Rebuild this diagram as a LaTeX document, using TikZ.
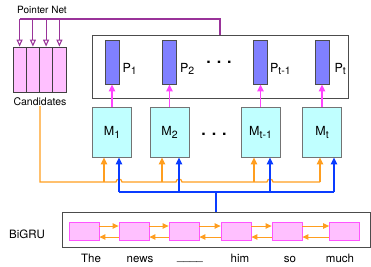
\documentclass[tikz,border=0pt]{standalone}
\usepackage{fontspec}
\setmainfont{TeX Gyre Heros}
\usetikzlibrary{arrows.meta}
\definecolor{ptrpurple}{HTML}{993399}
\definecolor{candpink}{HTML}{FFC0FF}
\definecolor{cellpink}{HTML}{FFC0FF}
\definecolor{celledge}{HTML}{FF55FF}
\definecolor{barblue}{HTML}{8080FF}
\definecolor{memcyan}{HTML}{C0FFFF}
\definecolor{gruorange}{HTML}{FF9E1F}
\definecolor{qblue}{HTML}{0A3CFF}
\definecolor{pmag}{HTML}{FF44FF}
\newcommand{\lsub}[1]{\raisebox{-0.45ex}{\fontsize{10.5}{12}\selectfont #1}}
\tikzset{
    outerbox/.style={draw=black!70, line width=0.9pt, inner sep=0pt},
    cand/.style={draw=black!75, line width=0.8pt, fill=candpink, minimum width=13.25pt, minimum height=45pt, inner sep=0pt},
    pbar/.style={draw=black!70, line width=0.9pt, fill=barblue, minimum width=14pt, minimum height=44pt, inner sep=0pt},
    mem/.style={draw=black!55, line width=0.9pt, fill=memcyan, minimum width=39pt, minimum height=50pt, inner sep=0pt, font=\fontsize{12.5}{14}\selectfont},
    cell/.style={draw=celledge, line width=0.8pt, fill=cellpink, minimum width=30pt, minimum height=18pt, inner sep=0pt},
    plbl/.style={inner sep=0pt, font=\fontsize{12.5}{14}\selectfont},
    word/.style={inner sep=0pt, font=\fontsize{11.5}{13}\selectfont},
    dotsl/.style={inner sep=0pt, font=\fontsize{16}{16}\selectfont\bfseries},
    ptr/.style={draw=ptrpurple, line width=1.1pt},
    ora/.style={draw=gruorange, line width=1.2pt, >={Triangle[width=6.5pt,length=7pt]}},
    blu/.style={draw=qblue, line width=1.2pt, >={Triangle[width=6.5pt,length=7pt]}},
    mag/.style={draw=pmag, line width=1.2pt, >={Triangle[width=6.5pt,length=7pt]}}
}

\begin{document}
\begin{tikzpicture}[x=1pt, y=-1pt]
        \useasboundingbox (0,0) rectangle (371,266);

        % pointer net and candidates
        \node[inner sep=0pt, font=\fontsize{10}{12}\selectfont] (pn) at (42,10) {Pointer Net};
        \foreach \i/\x in {1/19.6,2/32.9,3/46.1,4/59.4}
            \node[cand] (c\i) at (\x,69.5) {};
        \node[inner sep=0pt, font=\fontsize{10.5}{12}\selectfont] (cl) at (40,102) {Candidates};

        % pointer outputs
        \node[outerbox, minimum width=256pt, minimum height=63pt] (pf) at (220,66.5) {};
        \foreach \i/\x in {1/112,2/169.5,3/260.5,4/322}
            \node[pbar] (p\i) at (\x,62) {};
        \node[plbl, anchor=base west] (l1) at ([xshift=3pt]p1.east |- 0,72) {P\lsub{1}};
        \node[plbl, anchor=base west] (l2) at ([xshift=3pt]p2.east |- 0,72) {P\lsub{2}};
        \node[plbl, anchor=base west] (l3) at ([xshift=2pt]p3.east |- 0,72) {P\lsub{t-1}};
        \node[plbl, anchor=base west] (l4) at ([xshift=5pt]p4.east |- 0,72) {P\lsub{t}};
        \node[dotsl] (pd) at (219,62) {. . .};

        % memory cells
        \node[mem] (m1) at (112,132) {M\lsub{1}};
        \node[mem] (m2) at (169.5,132) {M\lsub{2}};
        \node[mem] (m3) at (260.5,132) {M\lsub{t-1}};
        \node[mem] (m4) at (322,132) {M\lsub{t}};
        \node[dotsl] (md) at (214,134) {. . .};

        % encoder
        \node[outerbox, minimum width=308pt, minimum height=35pt] (bf) at (216,229.5) {};
        \node[word] (bg) at (27,234) {BiGRU};
        \foreach \i/\x in {1/84,2/134,3/184,4/236,5/287,6/344.5}
            \node[cell] (w\i) at (\x,231) {};
        \foreach \i/\j in {1/2,2/3,3/4,4/5,5/6} {
            \draw[ora, line width=1pt, ->, >={Triangle[width=5.5pt,length=6pt]}] ([yshift=5pt]w\i.east) -- ([yshift=5pt]w\j.west);
            \draw[ora, line width=1pt, ->, >={Triangle[width=5.5pt,length=6pt]}] ([yshift=-6pt]w\j.west) -- ([yshift=-6pt]w\i.east);
        }
        \node[word, anchor=base] (t1) at (91,262) {The};
        \node[word, anchor=base] (t2) at (140,262) {news};
        \node[word, anchor=base] (t3) at (190,260.5) {\_\_\_\_};
        \node[word, anchor=base] (t4) at (240,262) {him};
        \node[word, anchor=base] (t5) at (290,262) {so};
        \node[word, anchor=base] (t6) at (340,262) {much};

        % connections
        \coordinate (pt) at (220,19);
        \draw[ptr] (c1 |- pt) -- (pt) -- (pf.north);
        \foreach \i in {1,...,4}
            \draw[ptr, -{Triangle[open, width=6pt, length=7pt]}] (c\i |- pt) -- (c\i.north);
        \foreach \i in {1,...,4}
            \draw[mag, ->] (m\i) -- (p\i);
        \draw[ora] (cl.south -| 40,0) -- (40,182) -- (116,182) arc (180:360:3)
            -- (176,182) arc (180:360:3) -- (267,182) arc (180:360:3) -- (320,182);
        \foreach \x/\m in {104/m1,162/m2,254/m3,320/m4}
            \draw[ora, ->] (\x,182) -- (\m.south -| \x,0);
        \draw[blu] (bf.north) -- (216,192);
        \draw[blu] (119,192) -- (334,192);
        \foreach \x/\m in {119/m1,179/m2,270/m3,334/m4}
            \draw[blu, ->] (\x,192) -- (\m.south -| \x,0);
    \end{tikzpicture}
\end{document}
